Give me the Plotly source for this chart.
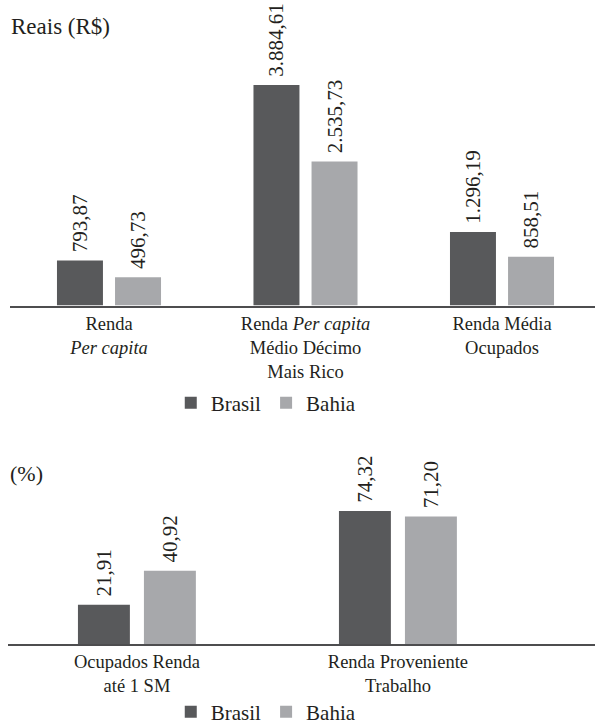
import plotly.graph_objects as go

# Top panel data (Reais R$)
cats_top = ["Renda<br><i>Per capita</i>",
            "Renda <i>Per capita</i><br>Médio Décimo<br>Mais Rico",
            "Renda Média<br>Ocupados"]
brasil_top = [793.87, 3884.61, 1296.19]
bahia_top = [496.73, 2535.73, 858.51]

# Bottom panel data (%)
cats_bot = ["Ocupados Renda<br>até 1 SM", "Renda Proveniente<br>Trabalho"]
brasil_bot = [21.91, 74.32]
bahia_bot = [40.92, 71.20]

C_BR = "#58595b"
C_BA = "#a7a8ab"
TXT = "#231f20"
FONT = "Liberation Serif"

def fmt(v):
    s = f"{v:,.2f}"
    return s.replace(",", "X").replace(".", ",").replace("X", ".")

fig = go.Figure()

def bars(x, y, name, color, xa, ya, legend, width, offset):
    fig.add_trace(go.Bar(
        x=x, y=y, name=name, marker=dict(color=color, line=dict(width=0)),
        width=width, offset=offset,
        text=["\u00a0" + fmt(v) for v in y], textposition="outside",
        textangle=-90, textfont=dict(family=FONT, size=21, color=TXT),
        cliponaxis=False, xaxis=xa, yaxis=ya, legend=legend, showlegend=True,
        constraintext="none",
    ))

bars(cats_top, brasil_top, "Brasil", C_BR, "x", "y", "legend", 0.234, -0.265)
bars(cats_top, bahia_top, "Bahia", C_BA, "x", "y", "legend", 0.234, 0.0305)
bars(cats_bot, brasil_bot, "Brasil", C_BR, "x2", "y2", "legend2", 0.199, -0.226)
bars(cats_bot, bahia_bot, "Bahia", C_BA, "x2", "y2", "legend2", 0.199, 0.0268)

axis_common = dict(showline=True, linecolor="#4d4d4f", linewidth=2,
                   showgrid=False, zeroline=False, ticks="", automargin=False,
                   tickfont=dict(family=FONT, size=18.5, color=TXT))

fig.update_layout(
    width=595, height=725,
    margin=dict(l=0, r=0, t=0, b=0, autoexpand=False),
    paper_bgcolor="white", plot_bgcolor="white",
    barmode="overlay",
    font=dict(family=FONT, color=TXT),
    xaxis=dict(domain=[10/595, 1], range=[-0.504, 2.473], anchor="y", **axis_common),
    yaxis=dict(domain=[0.5786, 1.0], range=[0, 5382], visible=False),
    xaxis2=dict(domain=[8/595, 1], range=[-0.494, 1.755], anchor="y2", **axis_common),
    yaxis2=dict(domain=[0.1117, 0.3931], range=[0, 114], visible=False),
    legend=dict(orientation="h", x=0.287, xanchor="left", y=1-403/725, yanchor="middle",
                font=dict(family=FONT, size=21, color=TXT), bgcolor="rgba(0,0,0,0)"),
    legend2=dict(orientation="h", x=0.287, xanchor="left", y=1-712/725, yanchor="middle",
                 font=dict(family=FONT, size=21, color=TXT), bgcolor="rgba(0,0,0,0)"),
    annotations=[
        dict(text="Reais (R$)", x=9/595, y=1-26/725, xref="paper", yref="paper",
             xanchor="left", yanchor="middle", showarrow=False,
             font=dict(family=FONT, size=23, color=TXT)),
        dict(text="(%)", x=8/595, y=1-473/725, xref="paper", yref="paper",
             xanchor="left", yanchor="middle", showarrow=False,
             font=dict(family=FONT, size=22, color=TXT)),
    ],
)

fig.write_html("out.html", config={"displayModeBar": False},
               post_script="document.body.style.margin='0';")
